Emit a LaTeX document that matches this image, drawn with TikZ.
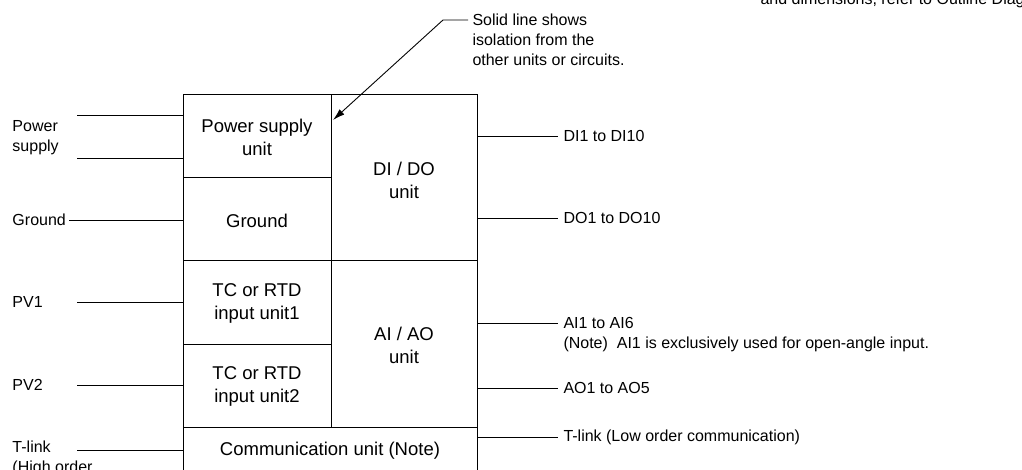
\documentclass[tikz,border=0pt]{standalone}
\usepackage{fontspec}
\setmainfont{Liberation Sans}
\usetikzlibrary{arrows.meta}
\tikzset{
  lbl/.style={inner sep=0pt, font=\fontsize{16}{20}\selectfont},
  cell/.style={inner sep=0pt, align=center, font=\fontsize{18.5}{23}\selectfont},
  wire/.style={line width=0.9pt},
}

\begin{document}
\begin{tikzpicture}[x=1pt,y=-1pt,line width=1pt]
\useasboundingbox (0,0) rectangle (1022,470);
\clip (0,0) rectangle (1022,470);

% Unit block
\draw (183,95) rectangle (477,520);
\draw (331,95) -- (331,427);
\draw (183,178) -- (331,178);
\draw (183,261) -- (477,261);
\draw (183,344) -- (331,344);
\draw (183,427) -- (477,427);

% Cell texts
\node[cell] (psu) at (257,137) {Power supply\\unit};
\node[cell] (gnd) at (257,221) {Ground};
\node[cell] (tc1) at (257,303) {TC or RTD\\input unit1};
\node[cell] (tc2) at (257,386) {TC or RTD\\input unit2};
\node[cell] (dido) at (404,180) {DI / DO\\unit};
\node[cell] (aiao) at (404,345) {AI / AO\\unit};
\node[cell] (comm) at (330,451) {Communication unit (Note)};

% Left side terminals
\node[lbl, anchor=west, align=left] (pwr) at (12,138) {Power\\supply};
\node[lbl, anchor=west] (gndin) at (12,220) {Ground};
\node[lbl, anchor=west] (pv1) at (12,302) {PV1};
\node[lbl, anchor=west] (pv2) at (12,385) {PV2};
\node[lbl, anchor=west] (tlh) at (12,447) {T-link};
\node[lbl, anchor=west] (tlh2) at (12,468) {(High order};

\coordinate (pwra) at (77,115);  \coordinate (pwrb) at (77,158);
\coordinate (boxa) at (183,115); \coordinate (boxb) at (183,158);
\coordinate (gndb) at (183,220);
\coordinate (pv1a) at (77,302);  \coordinate (pv1b) at (183,302);
\coordinate (pv2a) at (77,385);  \coordinate (pv2b) at (183,385);
\coordinate (tlha) at (77,450);  \coordinate (tlhb) at (183,450);

\draw[wire] (pwra) -- (boxa);
\draw[wire] (pwrb) -- (boxb);
\draw[wire] ([xshift=3pt]gndin.east) -- (gndb);
\draw[wire] (pv1a) -- (pv1b);
\draw[wire] (pv2a) -- (pv2b);
\draw[wire] (tlha) -- (tlhb);

% Right side terminals
\node[lbl, anchor=west] (di) at (563,136) {DI1 to DI10};
\node[lbl, anchor=west] (do) at (563,218) {DO1 to DO10};
\node[lbl, anchor=west] (ai) at (563,323) {AI1 to AI6};
\node[lbl, anchor=west] (ainote) at (563,344) {(Note)\ \ AI1 is exclusively used for open-angle input.};
\node[lbl, anchor=west] (ao) at (563,388) {AO1 to AO5};
\node[lbl, anchor=west] (tll) at (563,437) {T-link (Low order communication)};

\foreach \n/\y in {di/136, do/218, ai/323, ao/388, tll/437}
  \draw[wire] (477,\y) -- ([xshift=-5pt]\n.west);

% Isolation callout
\node[lbl, anchor=west, align=left] (iso) at (472,40)
  {Solid line shows\\isolation from the\\other units or circuits.};
\coordinate (isoa) at (443,20);
\coordinate (isotip) at (333,120);
\draw[wire, -{Latex[length=12pt,width=7pt]}]
  ([xshift=-4pt]iso.west |- 0,20) -- (isoa) -- (isotip);

% Note cut off at the top
\node[lbl, anchor=base west] (dimnote) at (760,5) {and dimensions, refer to Outline Diagram.};
\end{tikzpicture}
\end{document}
